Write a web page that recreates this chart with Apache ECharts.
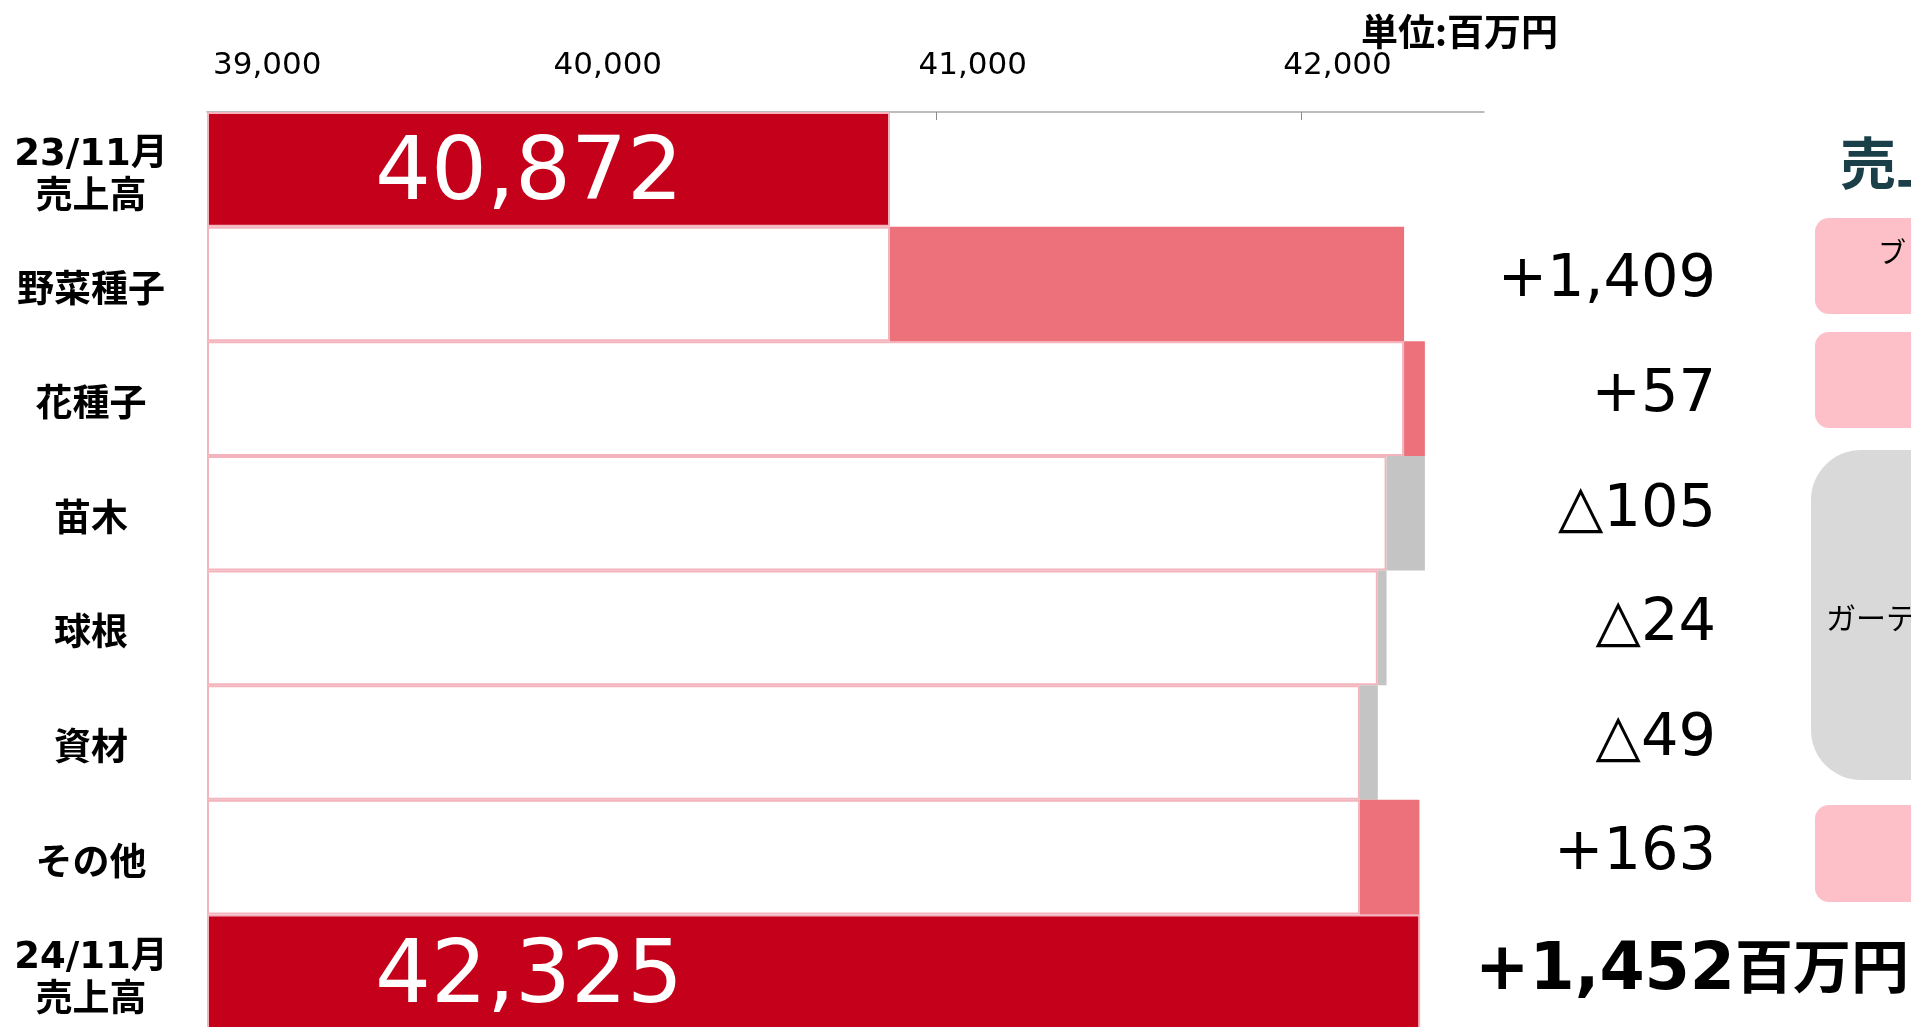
<!DOCTYPE html>
<html>
<head>
<meta charset="utf-8">
<script src="https://cdn.jsdelivr.net/npm/echarts@6/dist/echarts.min.js"></script>
<style>
  html, body { margin: 0; padding: 0; background: #fff; }
  #main { width: 1911px; height: 1027px; }
</style>
</head>
<body>
<div id="main"></div>
<script>
// 売上高増減（前年同月比）
var categories = ['23/11月\n売上高', '野菜種子', '花種子', '苗木', '球根', '資材', 'その他', '24/11月\n売上高'];
var startTotal = 40872;
var deltas = [1409, 57, -105, -24, -49, 163];
var endTotal = 42325;
var totalChange = 1452;
var xTicks = [39000, 40000, 41000, 42000];

var RED = '#c4001a';
var UP = '#ec717b';
var DOWN = '#c4c4c4';
var EDGE = '#f4b4bd';

function fmt(v) {
  return v.toLocaleString('en-US');
}

// 積み上げ用の土台と増減幅
var baseData = [];
var changeData = [];
var run = startTotal;
baseData.push({
  value: startTotal,
  itemStyle: { color: RED },
  label: { show: true }
});
changeData.push('-');
deltas.forEach(function (d) {
  var next = run + d;
  baseData.push(Math.min(run, next));
  changeData.push({
    value: Math.abs(d),
    itemStyle: { color: d >= 0 ? UP : DOWN }
  });
  run = next;
});
baseData.push({
  value: endTotal,
  itemStyle: { color: RED },
  label: { show: true }
});
changeData.push('-');

var option = {
  animation: false,
  grid: {
    left: 207,
    right: 427,
    top: 112,
    bottom: -2,
    containLabel: false,
    outerBoundsMode: 'none'
  },
  xAxis: {
    type: 'value',
    position: 'top',
    min: 39000,
    max: 42500,
    startValue: 39000,
    splitLine: { show: false },
    axisLine: { show: true, lineStyle: { color: '#a6a6a6', width: 1.5 } },
    axisTick: {
      show: true,
      inside: true,
      length: 8,
      customValues: xTicks,
      lineStyle: { color: '#8c8c8c' }
    },
    axisLabel: {
      customValues: xTicks,
      margin: 46,
      verticalAlign: 'middle',
      alignMinLabel: 'left',
      formatter: function (v) {
        return v === xTicks[0] ? '{m|' + fmt(v) + '}' : '{n|' + fmt(v) + '}';
      },
      rich: {
        m: { fontSize: 31, fontFamily: 'DejaVu Sans', color: '#000', padding: [0, 0, 0, 6] },
        n: { fontSize: 31, fontFamily: 'DejaVu Sans', color: '#000', padding: [0, 0, 0, 72] }
      }
    }
  },
  yAxis: [
    {
      type: 'category',
      inverse: true,
      data: categories,
      axisLine: { show: false },
      axisTick: { show: false },
      axisLabel: {
        interval: 0,
        align: 'center',
        margin: 116,
        padding: [16, 0, 0, 0],
        fontSize: 37,
        lineHeight: 43,
        fontWeight: 'bold',
        fontFamily: 'DejaVu Sans, Noto Sans CJK JP',
        color: '#000',
        rich: { x: { fontSize: 37 } }
      }
    },
    {
      type: 'category',
      inverse: true,
      position: 'right',
      data: categories,
      axisLine: { show: false },
      axisTick: { show: false },
      axisLabel: {
        interval: 0,
        align: 'left',
        margin: -9,
        formatter: function (value, index) {
          if (index === 0) return '';
          if (index === categories.length - 1) {
            return '{t|+' + fmt(totalChange) + '}{u|百万円}';
          }
          var d = deltas[index - 1];
          return '{d|' + (d >= 0 ? '+' : '△') + fmt(Math.abs(d)) + '}';
        },
        rich: {
          d: { width: 241, align: 'right', fontSize: 59, fontFamily: 'DejaVu Sans', color: '#000', padding: [0, 0, 6, 0] },
          t: { fontSize: 65, fontWeight: 'bold', fontFamily: 'DejaVu Sans', color: '#000' },
          u: { fontSize: 58, fontWeight: 'bold', fontFamily: 'Noto Sans CJK JP', color: '#000', padding: [0, 0, 12, 0] }
        }
      }
    }
  ],
  series: [
    {
      name: 'base',
      type: 'bar',
      stack: 'w',
      barWidth: '100%',
      itemStyle: { color: '#fff', borderColor: EDGE, borderWidth: 2 },
      label: {
        show: false,
        position: [168, '50%'],
        offset: [0, 7],
        align: 'left',
        verticalAlign: 'middle',
        fontSize: 88,
        fontFamily: 'DejaVu Sans',
        color: '#fff',
        formatter: function (p) { return fmt(p.value); }
      },
      data: baseData
    },
    {
      name: 'change',
      type: 'bar',
      stack: 'w',
      barWidth: '100%',
      itemStyle: { borderWidth: 0 },
      data: changeData
    }
  ],
  graphic: [
    { type: 'text', left: 1361, top: 13, style: { text: '単位:百万円', font: 'bold 37px "Noto Sans CJK JP"', fill: '#000' } },
    { type: 'text', left: 1840, top: 135, style: { text: '売上', font: 'bold 56px "Noto Sans CJK JP"', fill: '#1b3f48' } },
    { type: 'rect', left: 1815, top: 218, shape: { width: 200, height: 96, r: 14 }, style: { fill: '#fec0c8' } },
    { type: 'text', left: 1878, top: 238, style: { text: 'ブ', font: '28px "Noto Sans CJK JP"', fill: '#000' } },
    { type: 'rect', left: 1815, top: 332, shape: { width: 200, height: 96, r: 14 }, style: { fill: '#fec0c8' } },
    { type: 'rect', left: 1811, top: 450, shape: { width: 200, height: 330, r: 50 }, style: { fill: '#d9d9d9' } },
    { type: 'text', left: 1826, top: 603, style: { text: 'ガーテ', font: '30px "Noto Sans CJK JP"', fill: '#000' } },
    { type: 'rect', left: 1815, top: 805, shape: { width: 200, height: 97, r: 14 }, style: { fill: '#fec0c8' } }
  ]
};

var myChart = echarts.init(document.getElementById('main'));
myChart.setOption(option);
</script>
</body>
</html>
